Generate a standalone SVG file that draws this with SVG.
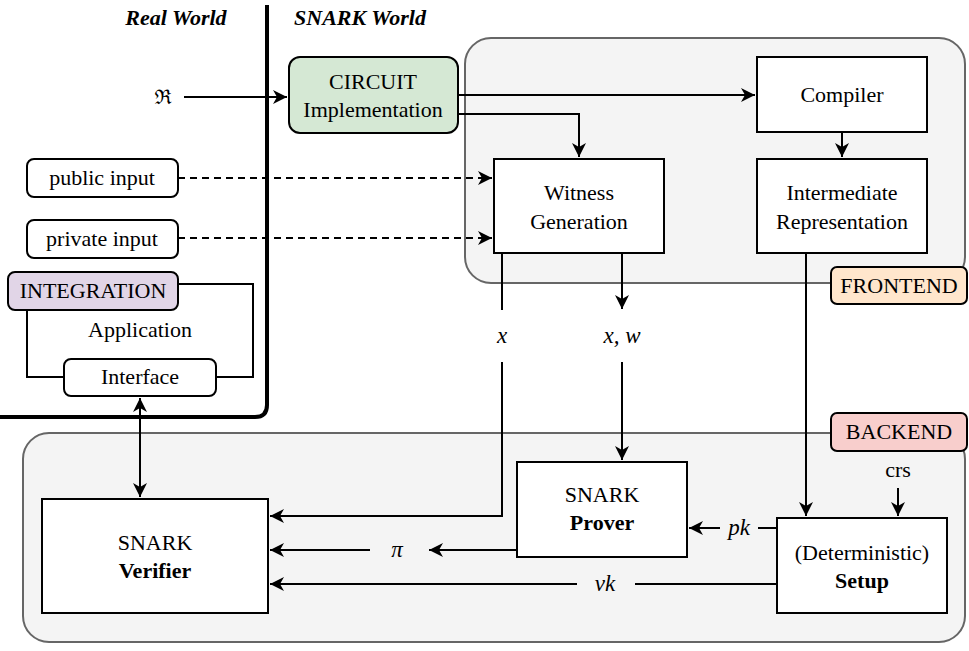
<svg xmlns="http://www.w3.org/2000/svg" width="969" height="651" viewBox="0 0 969 651">
<defs>
<style>
text{font-family:"Liberation Serif","Times New Roman",serif;font-size:22px;fill:#000;text-anchor:middle}
.b{font-weight:bold}
.bi{font-weight:bold;font-style:italic}
.m{font-style:italic;font-size:23px}
.box{fill:#fff;stroke:#000;stroke-width:2}
.grp{fill:#f4f4f4;stroke:#666;stroke-width:2}
.e{fill:none;stroke:#000;stroke-width:2}
.d{stroke-dasharray:7 5}
</style>
<marker id="ah" markerUnits="userSpaceOnUse" markerWidth="16" markerHeight="14" refX="14" refY="7" orient="auto-start-reverse">
<path d="M0,0 L14,7 L0,14 L4,7 z" fill="#000"/>
</marker>
</defs>
<rect width="969" height="651" fill="#fff"/>

<g id="frontend">
<rect class="grp" x="465" y="38" width="500" height="245" rx="26"/>
</g>
<g id="backend">
<rect class="grp" x="23" y="433" width="942" height="209" rx="26"/>
</g>

<g id="world-divider">
<path d="M267,5 L267,405 Q267,417 255,417 L0,417" fill="none" stroke="#000" stroke-width="4"/>
<text class="bi" x="176" y="25">Real World</text>
<text class="bi" x="360" y="25">SNARK World</text>
</g>

<g id="application">
<path class="e" d="M178,284 L253,284 L253,377 L216,377 M27,310 L27,377 L64,377"/>
<text x="140" y="337">Application</text>
</g>

<g id="connectors">
<path class="e" d="M184,97 L287,97" marker-end="url(#ah)"/>
<path class="e" d="M458,95 L755,95" marker-end="url(#ah)"/>
<path class="e" d="M458,114 L579,114 L579,157" marker-end="url(#ah)"/>
<path class="e" d="M842,132 L842,157" marker-end="url(#ah)"/>
<path class="e d" d="M178,178 L492,178" marker-end="url(#ah)"/>
<path class="e d" d="M178,238 L492,238" marker-end="url(#ah)"/>
<path class="e" d="M140,398 L140,497" marker-start="url(#ah)" marker-end="url(#ah)"/>
<path class="e" d="M502,253 L502,310"/>
<path class="e" d="M502,362 L502,516 L270,516" marker-end="url(#ah)"/>
<path class="e" d="M622,253 L622,309" marker-end="url(#ah)"/>
<path class="e" d="M622,362 L622,460" marker-end="url(#ah)"/>
<path class="e" d="M806,253 L806,516" marker-end="url(#ah)"/>
<path class="e" d="M898,488 L898,516" marker-end="url(#ah)"/>
<path class="e" d="M517,550 L429,550" marker-end="url(#ah)"/>
<path class="e" d="M370,550 L270,550" marker-end="url(#ah)"/>
<path class="e" d="M777,528 L758,528"/>
<path class="e" d="M720,528 L689,528" marker-end="url(#ah)"/>
<path class="e" d="M777,584 L635,584"/>
<path class="e" d="M577,584 L270,584" marker-end="url(#ah)"/>
<text class="m" x="502" y="343">x</text>
<text class="m" x="622" y="343">x, w</text>
<text class="m" x="397" y="557">π</text>
<text class="m" x="739" y="535">pk</text>
<text class="m" x="605" y="591">vk</text>
<text x="898" y="477">crs</text>
<text x="163" y="104" style="font-family:'DejaVu Serif','Noto Sans',serif;font-size:20px">ℜ</text>
</g>

<g id="circuit">
<rect x="289" y="57" width="169" height="76" rx="11" fill="#d5e8d4" stroke="#000" stroke-width="2"/>
<text x="373" y="89">CIRCUIT</text>
<text x="373" y="117">Implementation</text>
</g>

<g id="compiler">
<rect class="box" x="757" y="57" width="170" height="75"/>
<text x="842" y="102">Compiler</text>
</g>

<g id="ir">
<rect class="box" x="757" y="159" width="170" height="94"/>
<text x="842" y="200">Intermediate</text>
<text x="842" y="229">Representation</text>
</g>

<g id="witness">
<rect class="box" x="494" y="159" width="170" height="94"/>
<text x="579" y="200">Witness</text>
<text x="579" y="229">Generation</text>
</g>

<g id="frontend-label">
<rect x="831" y="267" width="136" height="37" rx="6" fill="#ffe6cc" stroke="#000" stroke-width="2"/>
<text x="899" y="293">FRONTEND</text>
</g>

<g id="public-input">
<rect class="box" x="27" y="159" width="151" height="38" rx="7"/>
<text x="102" y="185">public input</text>
</g>

<g id="private-input">
<rect class="box" x="27" y="220" width="151" height="38" rx="7"/>
<text x="102" y="246">private input</text>
</g>

<g id="integration">
<rect x="8" y="272" width="170" height="38" rx="7" fill="#e1d5e7" stroke="#000" stroke-width="2"/>
<text x="93" y="298">INTEGRATION</text>
</g>

<g id="interface">
<rect class="box" x="64" y="359" width="152" height="37" rx="7"/>
<text x="140" y="384">Interface</text>
</g>

<g id="backend-label">
<rect x="831" y="413" width="136" height="38" rx="6" fill="#f8cecc" stroke="#000" stroke-width="2"/>
<text x="899" y="439">BACKEND</text>
</g>

<g id="verifier">
<rect class="box" x="42" y="499" width="226" height="114"/>
<text x="155" y="550">SNARK</text>
<text class="b" x="155" y="578">Verifier</text>
</g>

<g id="prover">
<rect class="box" x="517" y="462" width="170" height="95"/>
<text x="602" y="502">SNARK</text>
<text class="b" x="602" y="530">Prover</text>
</g>

<g id="setup">
<rect class="box" x="777" y="518" width="170" height="95"/>
<text x="862" y="560">(Deterministic)</text>
<text class="b" x="862" y="588">Setup</text>
</g>
</svg>
